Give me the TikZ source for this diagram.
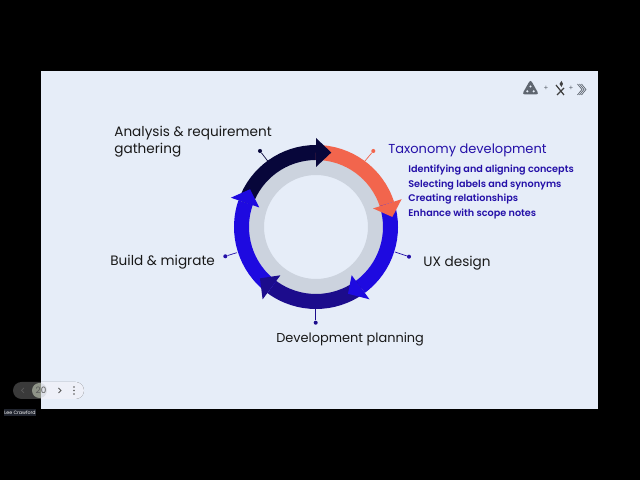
\documentclass[tikz,border=0pt]{standalone}
\usepackage{fontspec}
\setmainfont[BoldFont={Poppins SemiBold}]{Poppins}
\definecolor{slidebg}{HTML}{E6EDF8}
\definecolor{ringgrey}{HTML}{CCD3DE}
\definecolor{nightblue}{HTML}{07063A}
\definecolor{coral}{HTML}{F2654D}
\definecolor{vividblue}{HTML}{1E0AE0}
\definecolor{deepblue}{HTML}{1C0C8C}
\definecolor{labelblue}{HTML}{2410A8}
\definecolor{logogrey}{HTML}{5F6670}
\definecolor{pilldark}{HTML}{3A3A3A}
\definecolor{pilllight}{HTML}{EEF0F8}
\definecolor{pillknob}{HTML}{8F9488}
\definecolor{pillknoblight}{HTML}{DCDFE6}
\definecolor{tagdark}{HTML}{20242E}
\begin{document}
\begin{tikzpicture}[x = 0.02cm, y = 0.02cm,
  label/.style = {anchor=west,inner sep=0pt,text=black!90,font=\fontsize{7.75}{9.6}\selectfont,align=left},
  topic/.style = {anchor=west,inner sep=0pt,text=labelblue,font=\fontsize{5.5}{7}\selectfont\bfseries},
  tip/.style = {circle,inner sep=0pt,minimum size=2.3pt},
  band/.style = {line width=0.3cm},
  leader/.style = {line width=0.4pt},
  chevron/.style = {logogrey,line width=0.4pt},
]

\useasboundingbox (0,0) rectangle (640,480);
\fill[black] (0,0) rectangle (640,480);
\fill[slidebg] (41,71) rectangle (598,409);

\coordinate (R) at (316,253);

% grey ring
\fill[ringgrey,even odd rule] (R) circle (67.5) (R) circle (52);

% bands
\draw[band,nightblue] (R) ++(161:74.5) arc[start angle=161,end angle=90,radius=74.5];
\draw[band,coral] (R) ++(90:74.5) arc[start angle=90,end angle=18,radius=74.5];
\draw[band,vividblue] (R) ++(18:74.5) arc[start angle=18,end angle=-53.5,radius=74.5];
\draw[band,deepblue] (R) ++(-53.5:74.5) arc[start angle=-53.5,end angle=-126.4,radius=74.5];
\draw[band,vividblue] (R) ++(233.6:74.5) arc[start angle=233.6,end angle=161,radius=74.5];

% heads
\fill[coral] ([shift={(18:60)}]R) -- ([shift={(18:90)}]R) -- ([shift={(7.5:77)}]R) -- cycle;
\fill[vividblue] ([shift={(-53.5:60)}]R) -- ([shift={(-53.5:90)}]R) -- ([shift={(-64.4:74)}]R) -- cycle;
\fill[deepblue] ([shift={(233.6:60)}]R) -- ([shift={(233.6:90)}]R) -- ([shift={(222.5:76)}]R) -- cycle;
\fill[vividblue] ([shift={(161:60)}]R) -- ([shift={(161:90)}]R) -- ([shift={(150.2:76)}]R) -- cycle;
\fill[nightblue] ([shift={(90:60)}]R) -- ([shift={(90:89)}]R) -- ([shift={(78.4:76)}]R) -- cycle;

% leader lines
\node[tip,fill=nightblue] (T1) at (260,329) {};
\node[tip,fill=coral] (T2) at (373.3,329) {};
\node[tip,fill=labelblue] (T3) at (409,223.3) {};
\node[tip,fill=deepblue] (T4) at (315.7,157.3) {};
\node[tip,fill=labelblue] (T5) at (225.3,223.7) {};

\coordinate (E1) at (267.7,319);
\coordinate (E2) at (365,319);
\coordinate (E3) at (395,228);
\coordinate (E4) at (315.7,171);
\coordinate (E5) at (236.7,227.3);

\draw[leader,nightblue] (T1) -- (E1);
\draw[leader,coral] (T2) -- (E2);
\draw[leader,labelblue] (T3) -- (E3);
\draw[leader,deepblue] (T4) -- (E4);
\draw[leader,labelblue] (T5) -- (E5);

% texts
\node[label] (L1) at (114,338.5) {Analysis \& requirement\\gathering};
\node[label,text=labelblue,font=\fontsize{7.4}{9}\selectfont] (L2) at (388,329.5) {Taxonomy development};
\node[topic] (S1) at (408,309.5) {Identifying and aligning concepts};
\node[topic] (S2) at (408,295) {Selecting labels and synonyms};
\node[topic] (S3) at (408,280.5) {Creating relationships};
\node[topic] (S4) at (408,266) {Enhance with scope notes};
\node[label] (L3) at (423,217) {UX design};
\node[label,font=\fontsize{7.35}{9}\selectfont] (L4) at (276,140.5) {Development planning};
\node[label] (L5) at (110,217.5) {Build \& migrate};

% logos
\fill[logogrey,rounded corners=1.6pt] (522,385.5) -- (530.5,400.5) -- (539,385.5) -- cycle;
\fill[slidebg] (530.5,393.5) circle (1.2) (527.3,388.7) circle (1.2) (533.7,388.7) circle (1.2);
\node[inner sep=0pt,text=logogrey,font=\fontsize{4}{4}\selectfont] (P1) at (546,392) {+};
\node[inner sep=0pt,text=logogrey,font=\fontsize{4}{4}\selectfont] (P2) at (571,392) {+};
\draw[black!75,line width=0.7pt] (556,395) -- (564,385);
\draw[black!75,line width=0.7pt] (564,392) -- (557,385);
\fill[black!75] (561.5,399) -- (563,396) -- (561.5,393) -- (559.5,396) -- cycle;
\draw[chevron] (577.5,396) -- (582,390.5) -- (577.5,385);
\draw[chevron] (579.5,396) -- (584,390.5) -- (579.5,385);
\draw[chevron] (581.5,396) -- (586,390.5) -- (581.5,385);

% player controls
\fill[pilldark,rounded corners=0.17cm] (13,81) rectangle (84,98);
\fill[pillknob] (39.5,89.5) circle (7.5);
\begin{scope}
\clip (41,0) rectangle (640,480);
\fill[pilllight,rounded corners=0.17cm] (13,81) rectangle (84,98);
\fill[pillknoblight] (39.5,89.5) circle (7.5);
\end{scope}
\node[inner sep=0pt,text=black!65,font=\fontsize{5}{5}\selectfont] (N1) at (41,89.5) {20};
\draw[gray!70!black,line width=0.4pt] (24,92) -- (21.5,89.5) -- (24,87);
\draw[gray!70!black,line width=0.5pt] (58.5,92) -- (61,89.5) -- (58.5,87);
\fill[gray!70!black] (74,93) circle (0.9) (74,89.5) circle (0.9) (74,86) circle (0.9);
\node[fill=tagdark,inner sep=0pt,minimum width=0.58cm,minimum height=0.15cm,text=white,font=\fontsize{2.7}{3}\selectfont] (N2) at (20,67.5) {Lee Crawford};

\end{tikzpicture}
\end{document}
